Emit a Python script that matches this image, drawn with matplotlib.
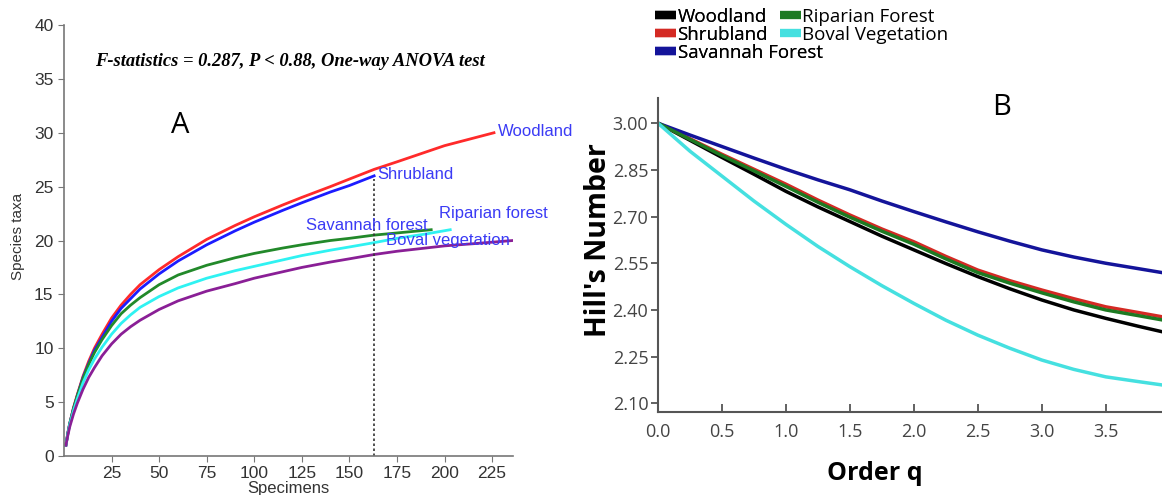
import numpy as np
import matplotlib.pyplot as plt
from matplotlib.lines import Line2D

# ---- panel A: rarefaction curves ----
x_wood = [1, 2, 3, 5, 7, 10, 13, 16, 20, 25, 30, 35, 40, 50, 60, 75, 90, 100, 115, 125,
          140, 150, 163, 175, 190, 200, 213, 226]
y_wood = [1.0, 2.1, 3.0, 4.5, 5.7, 7.4, 8.8, 10.0, 11.3, 12.8, 14.0, 15.0, 15.9, 17.3, 18.5,
          20.1, 21.4, 22.2, 23.3, 24.0, 25.0, 25.7, 26.6, 27.3, 28.2, 28.8, 29.4, 30.0]
x_shrub = [1, 2, 3, 5, 7, 10, 13, 16, 20, 25, 30, 35, 40, 50, 60, 75, 90, 100, 115, 125,
           140, 150, 163]
y_shrub = [1.0, 2.1, 3.0, 4.4, 5.6, 7.3, 8.6, 9.8, 11.0, 12.5, 13.7, 14.6, 15.5, 16.9, 18.1,
           19.6, 20.9, 21.7, 22.8, 23.5, 24.5, 25.1, 26.0]
x_sav = [1, 2, 3, 5, 7, 10, 13, 16, 20, 25, 30, 35, 40, 50, 60, 75, 90, 100, 115, 125,
         140, 150, 163, 175, 193]
y_sav = [1.0, 2.1, 3.0, 4.4, 5.6, 7.2, 8.5, 9.6, 10.8, 12.1, 13.2, 14.0, 14.7, 15.9, 16.8,
         17.7, 18.4, 18.8, 19.3, 19.6, 20.0, 20.2, 20.5, 20.7, 21.0]
x_rip = [1, 2, 3, 5, 7, 10, 13, 16, 20, 25, 30, 35, 40, 50, 60, 75, 90, 100, 115, 125,
         140, 150, 163, 175, 190, 203]
y_rip = [1.0, 2.0, 2.9, 4.2, 5.3, 6.8, 8.0, 9.0, 10.1, 11.3, 12.3, 13.1, 13.8, 14.8, 15.6,
         16.5, 17.2, 17.6, 18.2, 18.6, 19.1, 19.4, 19.8, 20.2, 20.6, 21.0]
x_boval = [1, 2, 3, 5, 7, 10, 13, 16, 20, 25, 30, 35, 40, 50, 60, 75, 90, 100, 115, 125,
           140, 150, 163, 175, 190, 200, 215, 236]
y_boval = [1.0, 1.9, 2.7, 3.9, 4.9, 6.2, 7.3, 8.2, 9.3, 10.4, 11.3, 12.0, 12.6, 13.6, 14.4,
           15.3, 16.0, 16.5, 17.1, 17.5, 18.0, 18.3, 18.7, 19.0, 19.3, 19.5, 19.7, 20.0]

# ---- panel B: Hill numbers against order q ----
q = [0, 0.25, 0.5, 0.75, 1.0, 1.25, 1.5, 1.75, 2.0, 2.25, 2.5, 2.75, 3.0, 3.25, 3.5, 3.75, 3.94]
h_wood = [3.0, 2.945, 2.89, 2.836, 2.781, 2.731, 2.684, 2.637, 2.593, 2.549, 2.507, 2.468,
          2.432, 2.40, 2.373, 2.348, 2.33]
h_shrub = [3.0, 2.95, 2.90, 2.852, 2.804, 2.753, 2.705, 2.66, 2.619, 2.572, 2.528, 2.494,
           2.464, 2.436, 2.41, 2.392, 2.378]
h_sav = [3.0, 2.962, 2.925, 2.888, 2.852, 2.818, 2.786, 2.75, 2.716, 2.683, 2.651, 2.621,
         2.593, 2.57, 2.55, 2.533, 2.52]
h_rip = [3.0, 2.948, 2.896, 2.847, 2.797, 2.746, 2.698, 2.653, 2.611, 2.564, 2.52, 2.486,
         2.455, 2.426, 2.40, 2.382, 2.368]
h_boval = [3.0, 2.91, 2.83, 2.75, 2.675, 2.604, 2.539, 2.478, 2.421, 2.367, 2.319, 2.277,
           2.239, 2.209, 2.185, 2.17, 2.159]

W, H = 1162, 495
fig = plt.figure(figsize=(11.62, 4.95), dpi=100)
arial = 'Liberation Sans'
segoe = 'Open Sans'

# panel A
axA = fig.add_axes([64 / W, 1 - 456 / H, (513 - 64) / W, (456 - 25) / H])
axA.plot(x_wood, y_wood, color='#ff2a2a', lw=2)
axA.plot(x_shrub, y_shrub, color='#1c1cff', lw=2)
axA.plot(x_sav, y_sav, color='#22892a', lw=2)
axA.plot(x_rip, y_rip, color='#2ff2f2', lw=2)
axA.plot(x_boval, y_boval, color='#8a1f96', lw=2)
axA.plot([163, 163], [0, 25.7], color='#333333', lw=1.2, ls=(0, (1.5, 1.5)))
axA.set_xlim(0, 236)
axA.set_ylim(0, 40)
axA.set_xticks([25, 50, 75, 100, 125, 150, 175, 200, 225])
axA.set_yticks(np.arange(0, 41, 5))
for s in ['top', 'right']:
    axA.spines[s].set_visible(False)
for s in ['left', 'bottom']:
    axA.spines[s].set_color('#777777')
    axA.spines[s].set_linewidth(1.2)
axA.tick_params(colors='#777777', labelcolor='#333333', labelsize=12.5, length=4)
for lab in axA.get_xticklabels() + axA.get_yticklabels():
    lab.set_family(arial)
axA.set_xlabel('Specimens', fontsize=12, color='#333333', family=arial, labelpad=0)
fig.text(18 / W, 1 - 236 / H, 'Species taxa', fontsize=11, color='#333333', family=arial,
         rotation=90, ha='center', va='center')

lblc = '#3b3bf5'
axA.text(228, 30.1, 'Woodland', color=lblc, fontsize=12, family=arial, va='center')
axA.text(164.5, 26.1, 'Shrubland', color=lblc, fontsize=12, family=arial, va='center')
axA.text(127, 21.4, 'Savannah forest', color=lblc, fontsize=12, family=arial, va='center')
axA.text(197, 22.5, 'Riparian forest', color=lblc, fontsize=12, family=arial, va='center')
axA.text(169, 20.0, 'Boval vegetation', color=lblc, fontsize=12, family=arial, va='center')

fig.text(95 / W, 1 - 62 / H, 'F-statistics = 0.287, P < 0.88, One-way ANOVA test',
         fontsize=13.3, family='Liberation Serif', style='italic', weight='bold', va='center')
fig.text(180 / W, 1 - 125 / H, 'A', fontsize=21, family=segoe, ha='center', va='center')

# panel B
axB = fig.add_axes([658 / W, 1 - 411.7 / H, (W - 658) / W, (411.7 - 98.3) / H])
axB.plot(q, h_wood, color='#000000', lw=2.5)
axB.plot(q, h_shrub, color='#d42a24', lw=2.5)
axB.plot(q, h_sav, color='#14149a', lw=2.5)
axB.plot(q, h_rip, color='#1d7a22', lw=2.5)
axB.plot(q, h_boval, color='#45e0e0', lw=2.5)
axB.set_xlim(0, 3.94)
axB.set_ylim(2.073, 3.08)
axB.set_xticks(np.arange(0, 3.6, 0.5))
axB.set_yticks([2.10, 2.25, 2.40, 2.55, 2.70, 2.85, 3.00])
axB.set_xticklabels(['0.0', '0.5', '1.0', '1.5', '2.0', '2.5', '3.0', '3.5'])
axB.set_yticklabels(['2.10', '2.25', '2.40', '2.55', '2.70', '2.85', '3.00'])
for s in ['top', 'right']:
    axB.spines[s].set_visible(False)
for s in ['left', 'bottom']:
    axB.spines[s].set_color('#555555')
    axB.spines[s].set_linewidth(1.5)
axB.tick_params(axis='x', direction='in', length=6, width=1.3, colors='#555555',
                labelcolor='#444444', labelsize=13, pad=8)
axB.tick_params(axis='y', direction='out', length=5, width=1.3, colors='#555555',
                labelcolor='#444444', labelsize=13, pad=2)
for lab in axB.get_xticklabels() + axB.get_yticklabels():
    lab.set_family(segoe)

fig.text(875 / W, 1 - 474 / H, 'Order q', fontsize=18, family=segoe, weight='bold',
         ha='center', va='center')
fig.text(599 / W, 1 - 240 / H, "Hill's Number", fontsize=20.5, family=segoe, weight='bold',
         ha='center', va='center', rotation=90)
fig.text(1002 / W, 1 - 107 / H, 'B', fontsize=21, family=segoe, ha='center', va='center')

# legend: two stacked columns, second one starts under the first column's long label
names1 = ['Woodland', 'Shrubland', 'Savannah Forest']
cols1 = ['#000000', '#d42a24', '#14149a']
names2 = ['Riparian Forest', 'Boval Vegetation']
cols2 = ['#1d7a22', '#45e0e0']
leg_kw = dict(loc='upper left', frameon=False, prop={'family': segoe, 'size': 13.5},
              handlelength=1.1, handletextpad=0.1, labelspacing=0.0,
              borderpad=0, borderaxespad=0)
h1 = [Line2D([], [], color=c, lw=6, solid_capstyle='butt') for c in cols1]
h2 = [Line2D([], [], color=c, lw=6, solid_capstyle='butt') for c in cols2]
leg1 = fig.legend(h1, names1, bbox_to_anchor=(655 / W, 1 - 8 / H), **leg_kw)
fig.add_artist(leg1)
fig.legend(h2, names2, bbox_to_anchor=(780 / W, 1 - 8 / H), **leg_kw)

fig.savefig('out.png', dpi=100)
